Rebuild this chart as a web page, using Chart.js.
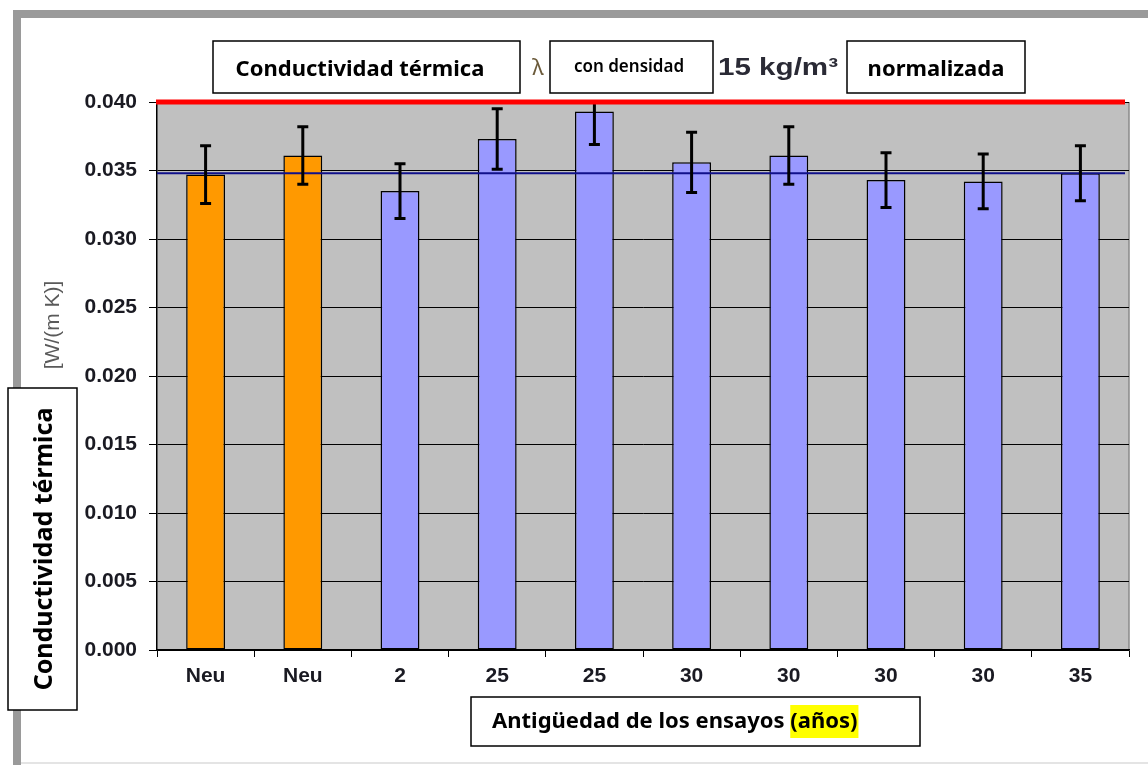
<!DOCTYPE html>
<html>
<head>
<meta charset="utf-8">
<script src="https://cdn.jsdelivr.net/npm/chart.js@4/dist/chart.umd.min.js"></script>
<style>
  html, body { margin: 0; padding: 0; background: #fff; }
  canvas { display: block; }
</style>
</head>
<body>
<canvas id="lambdaChart" width="1148" height="765"></canvas>
<script>
// Data
const ageLabels = ['Neu', 'Neu', '2', '25', '25', '30', '30', '30', '30', '35'];
const lambdaValues = [0.0347, 0.0361, 0.0335, 0.0373, 0.0393, 0.0356, 0.0361, 0.0343, 0.0342, 0.0348];
const lambdaErrors = [0.0021, 0.0021, 0.0020, 0.0022, 0.0024, 0.0022, 0.0021, 0.0020, 0.0020, 0.0020];
const yTicks = [0, 0.005, 0.010, 0.015, 0.020, 0.025, 0.030, 0.035, 0.040];
const limitValue = 0.040;
const meanValue = 0.0348;

const tickFont = { family: "'Liberation Sans', Arial, sans-serif", size: 21, weight: 'bold' };
const boxFontFamily = "'Noto Sans', 'Open Sans', sans-serif";

function drawBox(ctx, x, y, w, h) {
    ctx.fillStyle = '#fff';
    ctx.fillRect(x, y, w, h);
    ctx.strokeStyle = '#000';
    ctx.lineWidth = 1.5;
    ctx.strokeRect(x, y, w, h);
}

const overlayPlugin = {
    id: 'overlay',
    beforeDraw(chart) {
        const ctx = chart.ctx;
        const a = chart.chartArea;
        ctx.save();
        // outer frame
        ctx.fillStyle = '#9a9a9a';
        ctx.fillRect(13, 10, 1135, 8);
        ctx.fillRect(13, 10, 8, 755);
        ctx.fillStyle = '#e4e4e4';
        ctx.fillRect(21, 762, 1127, 2);
        // plot background
        ctx.fillStyle = '#c0c0c0';
        ctx.fillRect(a.left, a.top, a.right - a.left, a.bottom - a.top);
        ctx.strokeStyle = '#8a8a8a';
        ctx.lineWidth = 1.5;
        ctx.beginPath();
        ctx.moveTo(a.right, a.top);
        ctx.lineTo(a.right, a.bottom);
        ctx.stroke();
        ctx.restore();
    },
    afterDatasetsDraw(chart) {
        const ctx = chart.ctx;
        const a = chart.chartArea;
        const y = chart.scales.y;
        const meta = chart.getDatasetMeta(0);
        ctx.save();
        ctx.beginPath();
        ctx.rect(a.left, a.top, a.right - a.left, a.bottom - a.top);
        ctx.clip();

        // mean line
        const ym = y.getPixelForValue(meanValue);
        ctx.strokeStyle = '#10108a';
        ctx.lineWidth = 2;
        ctx.beginPath();
        ctx.moveTo(a.left, ym);
        ctx.lineTo(a.right - 4, ym);
        ctx.stroke();

        // error bars
        ctx.strokeStyle = '#000';
        ctx.lineWidth = 3;
        meta.data.forEach(function(bar, i) {
            const hi = y.getPixelForValue(lambdaValues[i] + lambdaErrors[i]);
            const lo = y.getPixelForValue(lambdaValues[i] - lambdaErrors[i]);
            ctx.beginPath();
            ctx.moveTo(bar.x, hi);
            ctx.lineTo(bar.x, lo);
            ctx.moveTo(bar.x - 5.5, hi);
            ctx.lineTo(bar.x + 5.5, hi);
            ctx.moveTo(bar.x - 5.5, lo);
            ctx.lineTo(bar.x + 5.5, lo);
            ctx.stroke();
        });
        ctx.restore();

        // limit line
        ctx.save();
        const yl = y.getPixelForValue(limitValue);
        ctx.strokeStyle = '#ff0000';
        ctx.lineWidth = 5;
        ctx.beginPath();
        ctx.moveTo(a.left - 1, yl);
        ctx.lineTo(a.right - 4, yl);
        ctx.stroke();
        ctx.restore();
    },
    afterDraw(chart) {
        const ctx = chart.ctx;
        ctx.save();
        ctx.textBaseline = 'middle';

        // title pieces
        drawBox(ctx, 213, 41, 307, 52);
        ctx.fillStyle = '#000';
        ctx.textAlign = 'center';
        ctx.font = 'bold 22px ' + boxFontFamily;
        ctx.fillText('Conductividad térmica', 360, 70);

        ctx.fillStyle = '#6b5a3a';
        ctx.font = '22px ' + boxFontFamily;
        ctx.fillText('λ', 538, 69);

        drawBox(ctx, 550, 41, 163, 52);
        ctx.fillStyle = '#000';
        ctx.font = '600 17px ' + boxFontFamily;
        ctx.fillText('con densidad', 629, 67);

        ctx.save();
        ctx.fillStyle = '#2a2a35';
        ctx.font = "bold 24px 'Liberation Sans', Arial, sans-serif";
        ctx.textAlign = 'left';
        const kgText = '15 kg/m³';
        const kgScale = 120 / ctx.measureText(kgText).width;
        ctx.translate(718, 68);
        ctx.scale(kgScale, 1);
        ctx.fillText(kgText, 0, 0);
        ctx.restore();

        drawBox(ctx, 847, 41, 178, 52);
        ctx.fillStyle = '#000';
        ctx.textAlign = 'center';
        ctx.font = 'bold 22px ' + boxFontFamily;
        ctx.fillText('normalizada', 936, 70);

        // y unit label
        ctx.save();
        ctx.translate(53, 325);
        ctx.rotate(-Math.PI / 2);
        ctx.fillStyle = '#5a5a5a';
        ctx.font = "21px 'Liberation Sans', Arial, sans-serif";
        ctx.fillText('[W/(m K)]', 0, 0);
        ctx.restore();

        // y title box
        drawBox(ctx, 8, 388, 69, 322);
        ctx.save();
        ctx.translate(45, 549);
        ctx.rotate(-Math.PI / 2);
        ctx.fillStyle = '#000';
        ctx.font = 'bold 25px ' + boxFontFamily;
        ctx.fillText('Conductividad térmica', 0, 0);
        ctx.restore();

        // x title box
        drawBox(ctx, 471, 697, 449, 49);
        ctx.textAlign = 'left';
        ctx.font = 'bold 22px ' + boxFontFamily;
        const part1 = 'Antigüedad de los ensayos ';
        const part2 = '(años)';
        const w1 = ctx.measureText(part1).width;
        const w2 = ctx.measureText(part2).width;
        const x0 = 492;
        ctx.fillStyle = '#ffff00';
        ctx.fillRect(x0 + w1, 705, w2 + 1, 33);
        ctx.fillStyle = '#000';
        ctx.fillText(part1, x0, 722);
        ctx.fillText(part2, x0 + w1, 722);

        ctx.restore();
    }
};

const ctx = document.getElementById('lambdaChart').getContext('2d');
const lambdaChart = new Chart(ctx, {
    type: 'bar',
    data: {
        labels: ageLabels,
        datasets: [{
            data: lambdaValues,
            backgroundColor: ageLabels.map(function(l) { return l === 'Neu' ? '#ff9900' : '#9999ff'; }),
            borderColor: '#000',
            borderWidth: 1.5,
            borderSkipped: false,
            barPercentage: 0.8,
            categoryPercentage: 0.5
        }]
    },
    options: {
        responsive: false,
        animation: false,
        layout: { padding: { top: 102, right: 19, left: 0, bottom: 0 } },
        scales: {
            x: {
                grid: {
                    drawOnChartArea: false,
                    color: '#000',
                    tickLength: 7,
                    offset: true
                },
                border: { color: '#000', width: 1.5 },
                ticks: {
                    color: '#1a1a22',
                    font: tickFont,
                    padding: 7
                },
                afterFit: function(scale) { scale.height = 115; }
            },
            y: {
                min: 0,
                max: 0.04,
                afterBuildTicks: function(scale) {
                    scale.ticks = yTicks.map(function(v) { return { value: v }; });
                },
                grid: {
                    color: '#000',
                    lineWidth: 1,
                    tickLength: 8
                },
                border: { color: '#000', width: 1.5 },
                ticks: {
                    color: '#1a1a22',
                    font: tickFont,
                    padding: 12,
                    callback: function(value) { return value.toFixed(3); }
                },
                afterFit: function(scale) { scale.width = 157; }
            }
        },
        plugins: {
            legend: { display: false },
            tooltip: { enabled: false }
        }
    },
    plugins: [overlayPlugin]
});
</script>
</body>
</html>
